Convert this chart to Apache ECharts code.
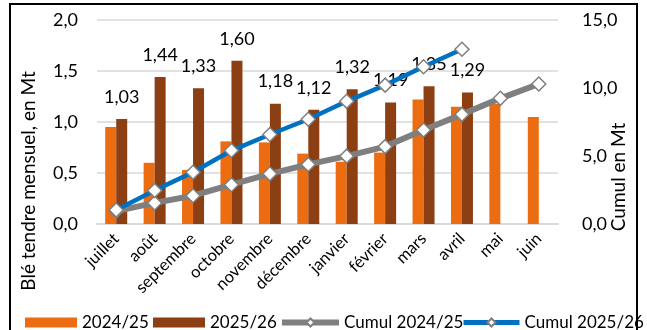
<!DOCTYPE html>
<html>
<head>
<meta charset="utf-8">
<script src="https://cdn.jsdelivr.net/npm/echarts@6/dist/echarts.min.js"></script>
<style>
  html, body { margin: 0; padding: 0; background: #fff; }
  #chart { width: 647px; height: 330px; }
</style>
</head>
<body>
<div id="chart"></div>
<script>
// Months of the marketing year (July to June)
const months = ['juillet', 'août', 'septembre', 'octobre', 'novembre', 'décembre',
                'janvier', 'février', 'mars', 'avril', 'mai', 'juin'];

// Monthly soft wheat volumes, Mt
const monthly2425 = [0.95, 0.60, 0.53, 0.81, 0.80, 0.69, 0.61, 0.70, 1.22, 1.15, 1.18, 1.05];
const monthly2526 = [1.03, 1.44, 1.33, 1.60, 1.18, 1.12, 1.32, 1.19, 1.35, 1.29, '-', '-'];

// Running totals, Mt
const cumul2425 = [0.95, 1.55, 2.08, 2.89, 3.69, 4.38, 4.99, 5.69, 6.91, 8.06, 9.24, 10.29];
const cumul2526 = [1.03, 2.47, 3.80, 5.40, 6.58, 7.70, 9.02, 10.21, 11.56, 12.85, '-', '-'];

// Axis ticks
const leftTicks = { min: 0, max: 2, interval: 0.5 };
const rightTicks = { min: 0, max: 15, interval: 5 };

const FONT = 'Lato, "Open Sans", sans-serif';
const comma = (v, d) => Number(v).toFixed(d).replace('.', ',');

const chart = echarts.init(document.getElementById('chart'), null, { renderer: 'canvas' });

const markerStyle = { color: '#ffffff', borderColor: '#7f7f7f', borderWidth: 1.5 };

// one legend block per entry so each sits at its own spot on the bottom row
const legendBase = {
  top: 314, padding: 0, itemHeight: 10,
  textStyle: { fontFamily: FONT, fontSize: 17, color: '#000' }
};

chart.setOption({
  animation: false,
  textStyle: { fontFamily: FONT },
  grid: { left: 97, right: 89, top: 20, bottom: 106 },
  legend: [
    { ...legendBase, left: 25, itemWidth: 52, data: [{ name: '2024/25', icon: 'rect' }] },
    { ...legendBase, left: 153, itemWidth: 52, data: [{ name: '2025/26', icon: 'rect' }] },
    { ...legendBase, left: 279, itemWidth: 57, lineStyle: { width: 6 }, data: ['Cumul 2024/25'] },
    { ...legendBase, left: 461, itemWidth: 56, lineStyle: { width: 5 }, data: ['Cumul 2025/26'] }
  ],
  xAxis: {
    type: 'category',
    data: months,
    axisLine: { lineStyle: { color: '#d9d9d9', width: 2 } },
    axisTick: { show: false },
    axisLabel: { rotate: 45, fontSize: 16.5, color: '#000', margin: 12, interval: 0, fontFamily: FONT }
  },
  yAxis: [
    {
      type: 'value', ...leftTicks,
      axisLine: { show: false }, axisTick: { show: false },
      splitLine: { lineStyle: { color: '#d9d9d9', width: 1.5 } },
      axisLabel: { fontSize: 18, color: '#000', margin: 19, fontFamily: FONT, formatter: v => comma(v, 1) }
    },
    {
      type: 'value', ...rightTicks,
      axisLine: { show: false }, axisTick: { show: false },
      splitLine: { show: false },
      axisLabel: { fontSize: 18, color: '#000', margin: 24, fontFamily: FONT, formatter: v => comma(v, 1) }
    }
  ],
  series: [
    {
      name: '2024/25', type: 'bar', data: monthly2425,
      barWidth: 11, barGap: '0%',
      itemStyle: { color: '#ec6c12' }
    },
    {
      name: '2025/26', type: 'bar', data: monthly2526,
      barWidth: 11, barGap: '0%',
      itemStyle: { color: '#8b3f12' },
      label: {
        show: true, position: 'top', distance: 13,
        fontSize: 18, color: '#000', fontFamily: FONT,
        formatter: p => comma(p.value, 2)
      }
    },
    {
      name: 'Cumul 2024/25', type: 'line', yAxisIndex: 1, data: cumul2425,
      lineStyle: { color: '#7f7f7f', width: 6 },
      itemStyle: markerStyle,
      symbol: 'diamond', symbolSize: 14, showAllSymbol: true,
      color: '#7f7f7f'
    },
    {
      name: 'Cumul 2025/26', type: 'line', yAxisIndex: 1, data: cumul2526,
      lineStyle: { color: '#0070c0', width: 4.5 },
      itemStyle: markerStyle,
      symbol: 'diamond', symbolSize: 14, showAllSymbol: true,
      color: '#0070c0'
    }
  ],
  graphic: [
    {
      type: 'rect', z: 100,
      shape: { x: 10, y: 4, width: 627, height: 340 },
      style: { fill: 'none', stroke: '#000', lineWidth: 2 }
    },
    {
      type: 'text', z: 100,
      x: 29, y: 181, rotation: Math.PI / 2,
      style: { text: 'Blé tendre mensuel, en Mt', font: '19px ' + FONT, fill: '#000',
               textAlign: 'center', textVerticalAlign: 'middle' }
    },
    {
      type: 'text', z: 100,
      x: 619, y: 177, rotation: Math.PI / 2,
      style: { text: 'Cumul en Mt', font: '19px ' + FONT, fill: '#000',
               textAlign: 'center', textVerticalAlign: 'middle' }
    }
  ]
});
</script>
</body>
</html>
